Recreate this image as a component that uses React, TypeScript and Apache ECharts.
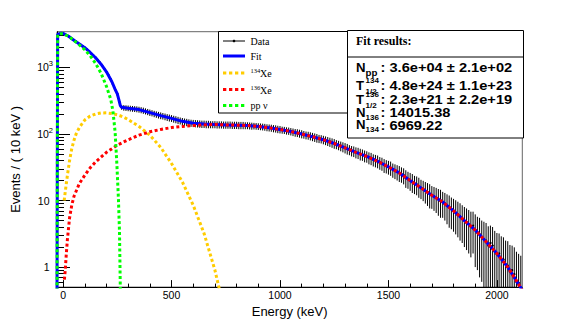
import React, { useEffect, useRef } from 'react';
import * as echarts from 'echarts';

// ---------------- data ----------------
const binStart = -20; // keV, centre of first bin
const binWidth = 10; // keV

const dataCounts = [
  3180, 3260, 3250, 3130, 3010, 2870, 2700, 2560, 2440, 2310,
  2200, 2090, 1980, 1870, 1740, 1620, 1510, 1400, 1290, 1180,
  1070, 960, 860, 760, 660, 560, 470, 400, 300, 252,
  248, 246, 244, 242, 240, 238, 236, 233, 229, 225,
  220, 215, 210, 206, 201, 197, 193, 189, 186, 182,
  178, 175, 172, 168, 165, 161, 158, 155, 152, 150,
  148, 146, 145, 144, 143, 142, 141, 141, 140, 140,
  139, 139, 139, 138, 138, 138, 137, 137, 137, 137,
  136, 136, 136, 135, 135, 135, 134, 134, 133, 132,
  132, 131, 130, 129, 128, 127, 125, 124, 123, 121,
  120, 118, 117, 115, 114, 112, 111, 109, 107, 105,
  104, 102, 100, 98, 96, 95, 93, 91, 89, 87,
  85, 84, 82, 80, 78, 76, 74, 72, 70, 68,
  66, 64, 62, 60, 58, 56, 55, 53, 52, 50,
  49, 47, 46, 44, 43, 41, 40, 39, 37, 36,
  34, 33, 32, 31, 29, 28, 27, 26, 25, 24,
  22, 21, 20, 19, 18, 17.5, 16.5, 15.5, 14.8, 14,
  13.3, 12.6, 12, 11.5, 11, 10.4, 10, 9.5, 9, 8.4,
  7.9, 7.4, 7, 6.6, 6.2, 5.8, 5.4, 5, 4.7, 4.4,
  4.1, 4.2, 3.6, 3.3, 3.1, 2.8, 2.6, 2.5, 2.1, 2.3,
  2.1, 1.7, 1.55, 1.6, 1.3, 1.3, 1.1, 1.05, 0.85, 0.9,
  0.78, 0.6, 0.58, 0.48,
];

const dataErrors = [
  76, 77, 77, 75, 74, 72, 70, 68, 67, 65,
  63, 62, 60, 58, 56, 54, 53, 51, 49, 46,
  44, 42, 40, 37, 35, 32, 29, 27, 23, 21,
  24, 24, 24, 24, 24, 24, 24, 24, 24, 24,
  23, 23, 23, 22, 22, 22, 22, 22, 21, 21,
  21, 21, 20, 20, 20, 20, 19, 19, 19, 19,
  18, 18, 18, 18, 18, 18, 18, 18, 18, 18,
  17, 17, 17, 17, 17, 17, 17, 17, 17, 17,
  17, 17, 17, 17, 17, 17, 16, 16, 16, 16,
  15, 15, 15, 15, 15, 15, 15, 15, 15, 15,
  15, 15, 15, 14, 14, 14, 14, 14, 14, 14,
  14, 14, 14, 13, 13, 13, 13, 13, 13, 13,
  12, 12, 12, 12, 12, 12, 12, 12, 11, 11,
  11, 11, 11, 11, 10, 10, 10, 10, 10, 10,
  9.5, 9.5, 9, 9, 9, 8.5, 8.5, 8.5, 8, 8,
  8, 7.5, 7.5, 7.5, 7, 7, 7, 7, 6.5, 6.5,
  6.5, 6, 6, 6, 5.5, 5.5, 5.5, 5, 5, 5,
  5, 5, 4.5, 4.5, 4.5, 4.5, 4.5, 4, 4, 4,
  4, 3.7, 3.6, 3.5, 3.4, 3.3, 3.1, 3, 2.9, 2.8,
  2.7, 2.6, 2.6, 2.4, 2.4, 2.2, 2.2, 2.1, 2, 1.9,
  1.9, 1.8, 1.7, 1.6, 1.6, 1.5, 1.4, 1.4, 1.3, 1.2,
  1.2, 1.1, 1.0, 1.0,
];

// fit components: [energy keV, events / 10 keV]
const fitCurve = [
  [-28, 0.3], [-25, 3150], [-10, 3280], [0, 3250], [10, 3130], [25, 2950], [50, 2560],
  [75, 2260], [100, 1980], [125, 1680], [150, 1400], [175, 1120], [200, 860], [225, 610],
  [240, 470], [250, 400], [258, 320], [264, 268], [270, 252], [300, 244], [350, 233],
  [400, 210], [450, 189], [500, 172], [550, 155], [600, 145], [650, 141], [700, 139],
  [750, 137], [800, 136], [850, 134], [900, 130], [950, 124], [1000, 117], [1050, 109],
  [1100, 100], [1150, 91], [1200, 82], [1250, 72], [1300, 62], [1350, 53], [1400, 46],
  [1450, 39], [1500, 32], [1550, 26], [1600, 20], [1650, 15.5], [1700, 12], [1750, 9.5],
  [1800, 7], [1850, 5], [1900, 3.6], [1950, 2.4], [2000, 1.6], [2050, 1.0], [2100, 0.55],
  [2117, 0.45],
];

const xe134Curve = [
  [5, 10], [10, 13.5], [15, 18], [20, 24], [30, 40], [40, 60], [50, 80], [60, 100],
  [75, 125], [100, 162], [125, 186], [150, 200], [175, 207], [200, 208], [225, 203],
  [250, 195], [275, 182], [300, 165], [350, 130], [400, 96], [450, 63], [500, 36],
  [550, 19], [600, 8.5], [650, 3.2], [700, 0.9], [725, 0.4],
];

const xe136Curve = [
  [6, 0.65], [10, 0.9], [15, 1.6], [20, 2.6], [30, 5.5], [40, 8.5], [50, 11.5], [75, 18],
  [100, 24], [125, 31], [150, 38], [200, 53], [250, 68], [300, 82], [350, 96], [400, 108],
  [450, 117], [500, 125], [550, 130], [600, 134], [650, 137], [700, 139], [750, 137],
  [800, 136], [850, 134], [900, 130], [950, 124], [1000, 117], [1050, 109], [1100, 100],
  [1150, 91], [1200, 82], [1250, 72], [1300, 62], [1350, 53], [1400, 46], [1450, 39],
  [1500, 32], [1550, 26], [1600, 20], [1650, 15.5], [1700, 12], [1750, 9.5], [1800, 7],
  [1850, 5], [1900, 3.6], [1950, 2.4], [2000, 1.6], [2050, 1.0], [2100, 0.55], [2117, 0.45],
];

const ppNuCurve = [
  [-28, 0.3], [-25, 3100], [-10, 3220], [0, 3200], [25, 2950], [50, 2550], [75, 2180],
  [100, 1850], [125, 1500], [150, 1150], [175, 820], [200, 520], [220, 330], [230, 220],
  [240, 106], [248, 35], [255, 11], [260, 3.5], [264, 0.45],
];

const xMajorTicks = [0, 500, 1000, 1500, 2000];
const xMinorTicks = [100, 200, 300, 400, 600, 700, 800, 900, 1100, 1200, 1300, 1400, 1600, 1700, 1800, 1900, 2100];
const yMajorTicks = [1, 10, 100, 1000];
const yMinorTicks = [
  0.6, 0.7, 0.8, 0.9, 2, 3, 4, 5, 6, 7, 8, 9, 20, 30, 40, 50, 60, 70, 80, 90,
  200, 300, 400, 500, 600, 700, 800, 900, 2000, 3000,
];

const fitResults = [
  { main: 'N', sup: '', sub: 'pp', rest: ': 3.6e+04 ± 2.1e+02' },
  { main: 'T', sup: '134', sub: '1/2', rest: ': 4.8e+24 ± 1.1e+23' },
  { main: 'T', sup: '136', sub: '1/2', rest: ': 2.3e+21 ± 2.2e+19' },
  { main: 'N', sup: '', sub: '136', rest: ': 14015.38' },
  { main: 'N', sup: '', sub: '134', rest: ': 6969.22' },
];

const X_MIN = -28;
const X_MAX = 2117;
const Y_MIN = 0.5;
const Y_MAX = 3450;

const C_BLUE = '#0000ff';
const C_ORANGE = '#ffcc00';
const C_RED = '#ff0000';
const C_GREEN = '#00ff00';

export default function App() {
  const ref = useRef<HTMLDivElement>(null);

  useEffect(() => {
    if (!ref.current) return;
    const chart = echarts.init(ref.current, null, { renderer: 'svg' });

    const dataItems = dataCounts.map((v, i) => [binStart + i * binWidth, v, dataErrors[i]]);

    const sans = '"Liberation Sans", Arial, Helvetica, sans-serif';
    const serif = '"Liberation Serif", "Times New Roman", serif';

    const txt = (text: string, x: number, y: number, font: string, scaleX = 1, extra: any = {}) => ({
      type: 'text',
      x,
      y,
      scaleX,
      z: 101,
      silent: true,
      style: { text, x: 0, y: 0, font, fill: '#000', align: 'left', verticalAlign: 'middle', ...extra },
    });

    const legendLine = (y: number, color: string, width: number, dash: any) => ({
      type: 'line',
      z: 101,
      silent: true,
      shape: { x1: 223, y1: y, x2: 245, y2: y },
      style: { stroke: color, lineWidth: width, lineDash: dash, lineCap: 'butt' },
    });

    const graphics: any[] = [
      // legend box
      { type: 'rect', z: 100, silent: true, shape: { x: 218.5, y: 31.5, width: 129, height: 81.5 }, style: { fill: '#fff', stroke: '#000', lineWidth: 1 } },
      legendLine(41, '#000', 1, null),
      { type: 'circle', z: 102, silent: true, shape: { cx: 234, cy: 41, r: 1.3 }, style: { fill: '#000' } },
      legendLine(56, C_BLUE, 3, null),
      legendLine(73, C_ORANGE, 3, [3.3, 2.7]),
      legendLine(89.5, C_RED, 3, [3.3, 2.7]),
      legendLine(105.5, C_GREEN, 3, [3.3, 2.7]),
      txt('Data', 250.5, 41, `10px ${serif}`),
      txt('Fit', 250.5, 56, `10px ${serif}`),
      txt('134', 250.5, 70, `6.5px ${serif}`),
      txt('Xe', 260, 73.5, `10px ${serif}`),
      txt('136', 250.5, 87, `6.5px ${serif}`),
      txt('Xe', 260, 90, `10px ${serif}`),
      txt('pp ν', 250.5, 105.5, `10px ${serif}`),
      // fit results box
      { type: 'rect', z: 100, silent: true, shape: { x: 347.5, y: 30.5, width: 176, height: 107.5 }, style: { fill: '#fff', stroke: '#000', lineWidth: 1 } },
      { type: 'line', z: 101, silent: true, shape: { x1: 347.5, y1: 57, x2: 523.5, y2: 57 }, style: { stroke: '#000', lineWidth: 1 } },
      txt('Fit results:', 356, 41, `bold 12px ${serif}`),
    ];

    const lineY = [68.3, 86, 100, 113, 125.5];
    fitResults.forEach((r, i) => {
      const y = lineY[i];
      graphics.push(txt(r.main, 356, y, `bold 12px ${sans}`, 1.1));
      if (r.sup) graphics.push(txt(r.sup, 365.5, y - 5, `bold 7px ${sans}`, 1.15));
      if (r.sub) graphics.push(txt(r.sub, 365.5, y + (r.sup ? 6 : 4.5), `bold ${r.sub === 'pp' ? 8.5 : 7}px ${sans}`, 1.15));
      graphics.push(txt(r.rest, 380.5, y, `bold 12px ${sans}`, 1.22));
    });

    const dotted = [3, 2.5];

    const option: any = {
      animation: false,
      backgroundColor: '#fff',
      textStyle: { fontFamily: sans },
      grid: {
        left: 57,
        right: 58.7,
        top: 31.7,
        bottom: 32.5,
        show: true,
        borderColor: '#666',
        borderWidth: 1,
        backgroundColor: 'transparent',
      },
      xAxis: [
        {
          type: 'value',
          min: X_MIN,
          max: X_MAX,
          position: 'bottom',
          name: 'Energy (keV)',
          nameLocation: 'middle',
          nameGap: 15,
          nameTextStyle: { fontSize: 13, color: '#000', fontFamily: sans },
          axisLine: { show: true, onZero: false, lineStyle: { color: '#000', width: 1 } },
          axisTick: { show: true, inside: true, length: 7, customValues: xMajorTicks, lineStyle: { color: '#000', width: 1 } },
          axisLabel: {
            show: true,
            customValues: xMajorTicks,
            fontSize: 10.5,
            color: '#000',
            margin: 2,
            fontFamily: sans,
            formatter: (v: number) => String(Math.round(v)),
          },
          splitLine: { show: false },
        },
        {
          type: 'value',
          min: X_MIN,
          max: X_MAX,
          position: 'bottom',
          axisLine: { show: false, onZero: false },
          axisTick: { show: true, inside: true, length: 3.5, customValues: xMinorTicks, lineStyle: { color: '#000', width: 1 } },
          axisLabel: { show: false },
          splitLine: { show: false },
        },
      ],
      yAxis: [
        {
          type: 'log',
          logBase: 10,
          min: Y_MIN,
          max: Y_MAX,
          position: 'left',
          name: 'Events / ( 10 keV )',
          nameLocation: 'middle',
          nameGap: 35,
          nameTextStyle: { fontSize: 13, color: '#000', fontFamily: sans },
          axisLine: { show: true, onZero: false, lineStyle: { color: '#000', width: 1 } },
          axisTick: { show: true, inside: true, length: 13, customValues: yMajorTicks, lineStyle: { color: '#000', width: 1 } },
          axisLabel: {
            show: true,
            customValues: yMajorTicks,
            margin: 4,
            color: '#000',
            formatter: (v: number) => {
              const p = Math.round(Math.log10(v));
              if (p === 0) return '{n|1}';
              if (p === 1) return '{n|10}';
              return `{b|10}{s|${p}}`;
            },
            rich: {
              n: { fontSize: 10.5, color: '#000', fontFamily: sans, padding: [0, 3.5, 0, 0] },
              b: { fontSize: 10.5, color: '#000', fontFamily: sans },
              s: { fontSize: 7.5, color: '#000', fontFamily: sans, padding: [0, 0, 7, 0] },
            },
          },
          splitLine: { show: false },
        },
        {
          type: 'log',
          logBase: 10,
          min: Y_MIN,
          max: Y_MAX,
          position: 'left',
          axisLine: { show: false, onZero: false },
          axisTick: { show: true, inside: true, length: 7, customValues: yMinorTicks, lineStyle: { color: '#000', width: 1 } },
          axisLabel: { show: false },
          splitLine: { show: false },
        },
      ],
      graphic: graphics,
      series: [
        {
          name: 'Data',
          type: 'custom',
          xAxisIndex: 0,
          yAxisIndex: 0,
          clip: true,
          encode: { x: 0, y: 1 },
          data: dataItems,
          renderItem: (params: any, api: any) => {
            const x = api.value(0);
            const v = api.value(1);
            const e = api.value(2);
            const lo = Math.max(v - e, Y_MIN);
            const hi = Math.min(v + e, Y_MAX);
            const pTop = api.coord([x, hi]);
            const pBot = api.coord([x, lo]);
            const pL = api.coord([Math.max(x - binWidth / 2, X_MIN), v]);
            const pR = api.coord([Math.min(x + binWidth / 2, X_MAX), v]);
            const pc = api.coord([x, v]);
            const children: any[] = [
              { type: 'line', shape: { x1: pTop[0], y1: pTop[1], x2: pBot[0], y2: pBot[1] }, style: { stroke: '#000', lineWidth: 1 } },
            ];
            if (v >= Y_MIN) {
              children.push({ type: 'line', shape: { x1: pL[0], y1: pL[1], x2: pR[0], y2: pR[1] }, style: { stroke: '#000', lineWidth: 1 } });
              children.push({ type: 'circle', shape: { cx: pc[0], cy: pc[1], r: 1 }, style: { fill: '#000' } });
            }
            return { type: 'group', children };
          },
        },
        {
          name: 'Fit',
          type: 'line',
          data: fitCurve,
          symbol: 'none',
          clip: true,
          lineStyle: { color: C_BLUE, width: 3 },
          z: 3,
        },
        {
          name: '134Xe',
          type: 'line',
          data: xe134Curve,
          symbol: 'none',
          clip: true,
          lineStyle: { color: C_ORANGE, width: 3, type: dotted, cap: 'butt' },
          z: 4,
        },
        {
          name: '136Xe',
          type: 'line',
          data: xe136Curve,
          symbol: 'none',
          clip: true,
          lineStyle: { color: C_RED, width: 3, type: dotted, cap: 'butt' },
          z: 4,
        },
        {
          name: 'pp ν',
          type: 'line',
          data: ppNuCurve,
          symbol: 'none',
          clip: true,
          lineStyle: { color: C_GREEN, width: 3, type: dotted, cap: 'butt' },
          z: 4,
        },
      ],
    };

    chart.setOption(option);
    return () => chart.dispose();
  }, []);

  return (
    <div
      ref={ref}
      style={{ position: 'absolute', left: 0, top: 0, width: 581, height: 323, background: '#fff' }}
    />
  );
}
